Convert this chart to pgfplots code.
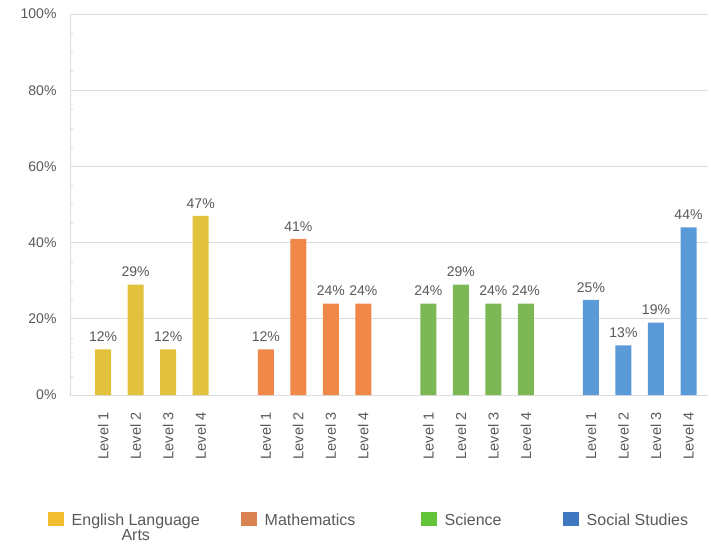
\documentclass[border=0pt]{standalone}
\usepackage{pgfplots}
\pgfplotsset{compat=1.18}
\usepackage{fontspec}
\setmainfont{Liberation Sans}

\definecolor{elabar}{HTML}{E2C13C}
\definecolor{mathbar}{HTML}{F0884A}
\definecolor{scibar}{HTML}{7CB855}
\definecolor{socbar}{HTML}{5A9AD8}
\definecolor{elaleg}{HTML}{F2BD2E}
\definecolor{mathleg}{HTML}{D98352}
\definecolor{scileg}{HTML}{63C43A}
\definecolor{socleg}{HTML}{3F78C1}
\definecolor{txt}{HTML}{595959}
\definecolor{gridc}{HTML}{DDDDDD}

\begin{document}
\begin{tikzpicture}
\path[use as bounding box] (-70pt,-152pt) rectangle (641pt,395pt);
\begin{axis}[
  at={(0,0)}, anchor=south west,
  scale only axis, width=638pt, height=381pt,
  xmin=-1.02, xmax=18.6, ymin=0, ymax=100,
  /pgf/number format/assume math mode=true,
  axis x line*=bottom, axis y line*=left,
  axis line style={gridc,-},
  ytick={0,20,...,100},
  yticklabel={\pgfmathprintnumber{\tick}\%},
  minor y tick num=3,
  ymajorgrids, major grid style={gridc, line width=1pt},
  major tick length=0pt, minor tick length=3pt,
  minor tick style={gridc},
  xtick={0,1,2,3,5,6,7,8,10,11,12,13,15,16,17,18},
  xticklabels={Level 1,Level 2,Level 3,Level 4,Level 1,Level 2,Level 3,Level 4,
               Level 1,Level 2,Level 3,Level 4,Level 1,Level 2,Level 3,Level 4},
  xticklabel style={rotate=90, anchor=east, font=\fontsize{14.5}{16}\selectfont, text=txt, xshift=-14pt},
  yticklabel style={font=\fontsize{14}{16}\selectfont, text=txt, xshift=-10pt},
  ybar, bar width=16pt, bar shift=0pt,
  nodes near coords={\pgfmathprintnumber{\pgfplotspointmeta}\%},
  every node near coord/.append style={font=\fontsize{14}{16}\selectfont, text=txt, yshift=4pt},
  legend columns=4,
  legend style={draw=none, fill=none, at={(-0.04,-0.302)}, anchor=north west,
    nodes={inner sep=0pt}, column sep=0pt,
    font=\fontsize{16}{17}\selectfont, text=txt},
  legend image code/.code={\fill[#1, draw=none] (0pt,-6pt) rectangle (16pt,8pt);},
]
\addplot[fill=elabar, draw=none, forget plot] coordinates {(0,12) (1,29) (2,12) (3,47)};
\addplot[fill=mathbar, draw=none, forget plot] coordinates {(5,12) (6,41) (7,24) (8,24)};
\addplot[fill=scibar, draw=none, forget plot] coordinates {(10,24) (11,29) (12,24) (13,24)};
\addplot[fill=socbar, draw=none, forget plot] coordinates {(15,25) (16,13) (17,19) (18,44)};
\addlegendimage{fill=elaleg, draw=none}
\addlegendentry{\hspace{8pt}\makebox[169pt][l]{\raisebox{0pt}[\height][0pt]{\begin{tabular}[t]{@{}c@{}}English Language\\[-2pt]Arts\end{tabular}}}}
\addlegendimage{fill=mathleg, draw=none}
\addlegendentry{\hspace{8pt}\makebox[156pt][l]{Mathematics}}
\addlegendimage{fill=scileg, draw=none}
\addlegendentry{\hspace{8pt}\makebox[118pt][l]{Science}}
\addlegendimage{fill=socleg, draw=none}
\addlegendentry{\hspace{8pt}Social Studies}
\end{axis}
\end{tikzpicture}
\end{document}
